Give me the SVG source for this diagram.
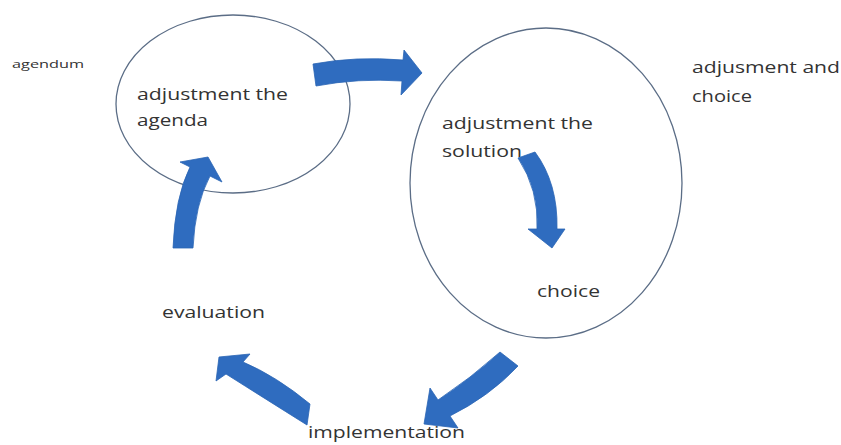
<svg xmlns="http://www.w3.org/2000/svg" width="841" height="445" viewBox="0 0 841 445">
  <style>
    .stage { fill: none; stroke: #5b6d86; stroke-width: 1.3; }
    .arrow { fill: #2f6cbf; stroke: #2a64b4; stroke-width: 0.8; stroke-linejoin: round; }
    .lbl { font-family: "Open Sans", "Liberation Sans", sans-serif; fill: #333333; }
    .big { font-size: 17px; }
    .small { font-size: 11px; }
  </style>
  <rect width="841" height="445" fill="#ffffff"/>

  <!-- side note -->
  <g id="note-agendum">
    <text class="lbl small" x="12" y="68" textLength="72" lengthAdjust="spacingAndGlyphs">agendum</text>
  </g>

  <!-- agenda stage -->
  <g id="stage-agenda">
    <ellipse class="stage" cx="233" cy="104" rx="117" ry="89"/>
    <text class="lbl big" x="137" y="100" textLength="151" lengthAdjust="spacingAndGlyphs">adjustment the</text>
    <text class="lbl big" x="137" y="126" textLength="71" lengthAdjust="spacingAndGlyphs">agenda</text>
  </g>

  <!-- solution and choice stage -->
  <g id="stage-solution">
    <ellipse class="stage" cx="546" cy="183" rx="136" ry="155"/>
    <text class="lbl big" x="442" y="129" textLength="151" lengthAdjust="spacingAndGlyphs">adjustment the</text>
    <text class="lbl big" x="442" y="157" textLength="80" lengthAdjust="spacingAndGlyphs">solution</text>
    <text class="lbl big" x="537" y="297" textLength="63" lengthAdjust="spacingAndGlyphs">choice</text>
  </g>

  <!-- side note -->
  <g id="note-choice">
    <text class="lbl big" x="692" y="73" textLength="148" lengthAdjust="spacingAndGlyphs">adjusment and</text>
    <text class="lbl big" x="692" y="102" textLength="60" lengthAdjust="spacingAndGlyphs">choice</text>
  </g>

  <g id="stage-evaluation">
    <text class="lbl big" x="162" y="318" textLength="103" lengthAdjust="spacingAndGlyphs">evaluation</text>
  </g>

  <g id="stage-implementation">
    <text class="lbl big" x="308" y="438" textLength="157" lengthAdjust="spacingAndGlyphs">implementation</text>
  </g>

  <!-- curved block arrows of the cycle -->
  <g id="connectors">
    <!-- agenda -> solution -->
    <path class="arrow" d="M313,64 Q356,56 403,60 L404,50 L422,73 L401,95 L402,81 Q358,78 316,86 Z"/>
    <!-- solution -> choice -->
    <path class="arrow" d="M518,158 Q539,190 537,229 L528,229 L552,248 L565,229 L557,229 Q558,183 535,152 Z"/>
    <!-- choice -> implementation -->
    <path class="arrow" d="M500,352 Q471,378 438,400 L430,388 L424,424 L458,428 L450,416 Q490,396 518,366 Z"/>
    <!-- implementation -> evaluation -->
    <path class="arrow" d="M310,404 Q276,376 243,362 L250,354 L219,357 L216,381 L226,374 Q264,398 307,425 Z"/>
    <!-- evaluation -> agenda -->
    <path class="arrow" d="M173,248 Q175,197 190,167 L180,162 L208,157 L222,182 L210,176 Q195,204 193,248 Z"/>
  </g>
</svg>
